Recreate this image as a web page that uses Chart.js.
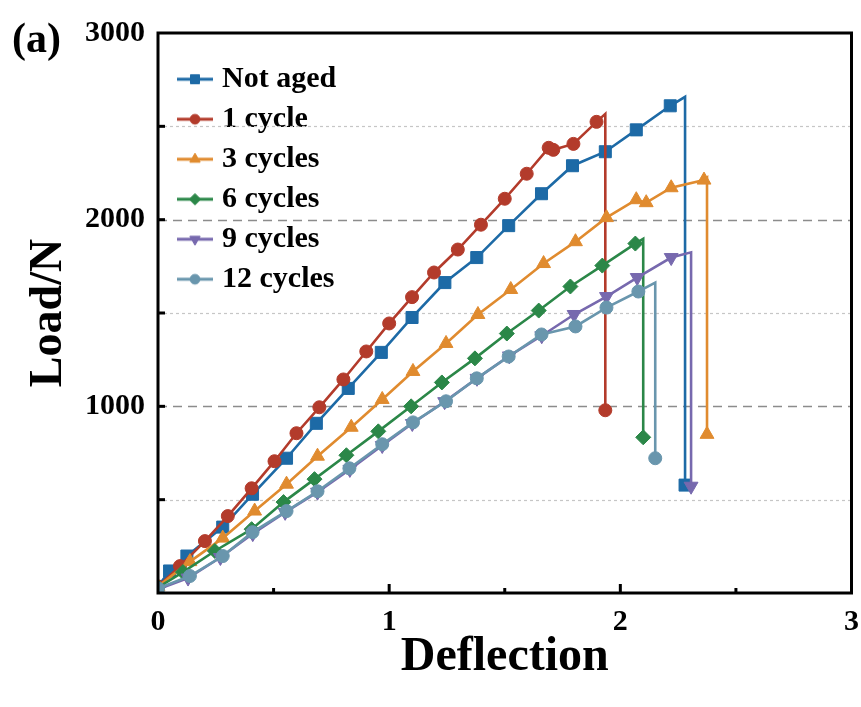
<!DOCTYPE html>
<html>
<head>
<meta charset="utf-8">
<script src="https://cdn.jsdelivr.net/npm/chart.js@4.4.0/dist/chart.umd.min.js"></script>
<style>
    html, body { margin: 0; padding: 0; background: #fff; }
    #wrap { position: relative; width: 861px; height: 707px; }
    #tag { position: absolute; left: 12px; top: 17px; font: bold 42px "Liberation Serif", serif; line-height: 1; color: #000; }
</style>
</head>
<body>
<div id="wrap">
    <canvas id="chart" width="861" height="707"></canvas>
    <div id="tag">(a)</div>
</div>
<script>
// series names as in the legend
const seriesNames = ['Not aged', '1 cycle', '3 cycles', '6 cycles', '9 cycles', '12 cycles'];

// deflection / load (last point = load after failure)
const notAgedX = [0, 0.05, 0.125, 0.28, 0.409, 0.556, 0.685, 0.823, 0.966, 1.099, 1.241, 1.379, 1.517, 1.659, 1.793, 1.935, 2.069, 2.216, 2.28, 2.28];
const notAgedY = [35, 118, 198, 353, 529, 722, 909, 1096, 1289, 1476, 1663, 1797, 1968, 2139, 2289, 2364, 2481, 2610, 2658, 578];

const cycle1X = [0, 0.095, 0.203, 0.302, 0.405, 0.504, 0.599, 0.698, 0.802, 0.901, 1.0, 1.099, 1.194, 1.297, 1.397, 1.5, 1.595, 1.69, 1.71, 1.797, 1.897, 1.935, 1.935];
const cycle1Y = [35, 144, 278, 412, 561, 706, 856, 995, 1144, 1294, 1444, 1585, 1717, 1840, 1973, 2112, 2246, 2385, 2374, 2406, 2524, 2567, 979];

const cycle3X = [0, 0.138, 0.28, 0.418, 0.556, 0.69, 0.836, 0.97, 1.103, 1.246, 1.384, 1.526, 1.668, 1.806, 1.94, 2.069, 2.112, 2.22, 2.362, 2.375, 2.375];
const cycle3Y = [35, 168, 294, 439, 583, 733, 888, 1037, 1187, 1337, 1492, 1626, 1765, 1882, 2011, 2107, 2091, 2171, 2212, 2225, 850];

const cycle6X = [0, 0.108, 0.246, 0.405, 0.543, 0.677, 0.815, 0.953, 1.095, 1.228, 1.371, 1.509, 1.647, 1.784, 1.922, 2.065, 2.099, 2.099];
const cycle6Y = [30, 112, 225, 342, 487, 610, 738, 866, 1000, 1128, 1257, 1390, 1513, 1642, 1754, 1872, 1898, 834];

const cycle9X = [0, 0.13, 0.27, 0.41, 0.55, 0.69, 0.83, 0.97, 1.10, 1.24, 1.38, 1.52, 1.66, 1.80, 1.94, 2.073, 2.22, 2.306, 2.306];
const cycle9Y = [20, 80, 190, 318, 432, 540, 662, 790, 908, 1025, 1150, 1270, 1378, 1492, 1588, 1690, 1797, 1825, 572];

const cycle12X = [0, 0.138, 0.28, 0.409, 0.556, 0.69, 0.828, 0.97, 1.103, 1.246, 1.379, 1.517, 1.659, 1.806, 1.94, 2.078, 2.151, 2.151];
const cycle12Y = [25, 91, 198, 326, 439, 545, 668, 797, 914, 1027, 1150, 1267, 1385, 1428, 1529, 1615, 1663, 722];

const seriesX = [notAgedX, cycle1X, cycle3X, cycle6X, cycle9X, cycle12X];
const seriesY = [notAgedY, cycle1Y, cycle3Y, cycle6Y, cycle9Y, cycle12Y];

const colors = ['#1d6aa6', '#b33b2b', '#e08b2f', '#2b8748', '#7769ae', '#6996ad'];
const markers = [
    { style: 'rect', rot: 0, r: 8.5 },
    { style: 'circle', rot: 0, r: 6.5 },
    { style: 'triangle', rot: 0, r: 8 },
    { style: 'rectRot', rot: 0, r: 7.5 },
    { style: 'triangle', rot: 180, r: 8 },
    { style: 'circle', rot: 0, r: 6.5 }
];

const serif = '"Liberation Serif", "Times New Roman", serif';

// small canvas: line sample with marker, used as legend symbol
function makeIcon(color, m) {
    const c = document.createElement('canvas');
    c.width = 51;
    c.height = 20;
    const g = c.getContext('2d');
    g.strokeStyle = color;
    g.fillStyle = color;
    g.lineWidth = 3;
    g.beginPath();
    g.moveTo(15, 10);
    g.lineTo(51, 10);
    g.stroke();
    g.lineWidth = 1;
    Chart.helpers.drawPoint(g, { pointStyle: m.style, rotation: m.rot, radius: m.r * 0.75, borderWidth: 1 }, 33, 10);
    return c;
}
const icons = colors.map((c, i) => makeIcon(c, markers[i]));

const datasets = seriesNames.map((name, i) => ({
    label: name,
    data: seriesX[i].map((x, j) => ({ x: x, y: seriesY[i][j] })),
    borderColor: colors[i],
    backgroundColor: colors[i],
    borderWidth: 2.6,
    tension: 0,
    pointStyle: markers[i].style,
    rotation: markers[i].rot,
    pointBorderWidth: 1,
    // no marker on the peak just before the drop
    pointRadius: function (ctx) {
        return ctx.dataIndex === ctx.dataset.data.length - 2 ? 0 : markers[i].r;
    },
    order: seriesNames.length - i
}));

const frameGrid = {
    id: 'frameGrid',
    beforeDatasetsDraw(chart) {
        const { ctx, chartArea: a } = chart;
        const y = chart.scales.y;
        ctx.save();
        y.ticks.forEach(t => {
            if (t.value <= 0 || t.value >= 3000) return;
            const py = Math.round(y.getPixelForValue(t.value)) + 0.5;
            const major = t.value % 1000 === 0;
            ctx.strokeStyle = major ? '#8c8c8c' : '#c6c6c6';
            ctx.lineWidth = major ? 1.3 : 1.2;
            ctx.setLineDash(major ? [9, 6] : [3, 3]);
            ctx.beginPath();
            ctx.moveTo(a.left, py);
            ctx.lineTo(a.right, py);
            ctx.stroke();
        });
        ctx.restore();
    },
    afterDatasetsDraw(chart) {
        const { ctx, chartArea: a } = chart;
        const x = chart.scales.x;
        const y = chart.scales.y;
        ctx.save();
        ctx.setLineDash([]);
        ctx.strokeStyle = '#000';
        ctx.lineWidth = 3;
        y.ticks.forEach(t => {
            if (t.value <= 0 || t.value >= 3000) return;
            const py = y.getPixelForValue(t.value);
            ctx.beginPath();
            ctx.moveTo(a.left, py);
            ctx.lineTo(a.left + 7, py);
            ctx.stroke();
        });
        x.ticks.forEach(t => {
            if (t.value <= 0 || t.value >= 3) return;
            const px = x.getPixelForValue(t.value);
            const len = Number.isInteger(t.value) ? 9 : 5;
            ctx.beginPath();
            ctx.moveTo(px, a.bottom);
            ctx.lineTo(px, a.bottom - len);
            ctx.stroke();
        });
        ctx.strokeRect(a.left, a.top, a.right - a.left, a.bottom - a.top);
        ctx.restore();
    }
};

const tickFont = { family: serif, size: 30, weight: 'bold' };

new Chart(document.getElementById('chart'), {
    type: 'line',
    data: { datasets: datasets },
    plugins: [frameGrid],
    options: {
        responsive: false,
        animation: false,
        events: [],
        layout: { padding: { top: 33, right: 6, bottom: 0, left: 0 } },
        plugins: {
            tooltip: { enabled: false },
            legend: {
                position: 'chartArea',
                align: 'start',
                title: { display: true, text: '', font: { size: 1 }, padding: { top: 0, bottom: 53 } },
                labels: {
                    font: { family: serif, size: 30, weight: 'bold' },
                    color: '#000',
                    padding: 10,
                    usePointStyle: true,
                    pointStyleWidth: 39,
                    generateLabels: function (chart) {
                        return chart.data.datasets.map((ds, i) => ({
                            text: ds.label,
                            pointStyle: icons[i],
                            datasetIndex: i,
                            hidden: false,
                            lineWidth: 0,
                            fillStyle: ds.borderColor,
                            strokeStyle: ds.borderColor,
                            fontColor: '#000'
                        }));
                    }
                }
            }
        },
        scales: {
            x: {
                type: 'linear',
                min: 0,
                max: 3,
                afterFit: function (s) {
                    s.height = 114;
                    s.paddingLeft = 0;
                    s.paddingRight = 0;
                },
                grid: { drawOnChartArea: false, drawTicks: false },
                border: { display: false },
                ticks: {
                    stepSize: 0.5,
                    padding: 11,
                    color: '#000',
                    font: tickFont,
                    maxRotation: 0,
                    autoSkip: false,
                    callback: v => Number.isInteger(v) ? v : ''
                },
                title: {
                    display: true,
                    text: 'Deflection',
                    color: '#000',
                    font: { family: serif, size: 48, weight: 'bold' },
                    padding: { top: 0, bottom: 21 }
                }
            },
            y: {
                min: 0,
                max: 3000,
                afterFit: function (s) {
                    s.width = 158;
                    s.paddingTop = 0;
                    s.paddingBottom = 0;
                },
                grid: { drawOnChartArea: false, drawTicks: false },
                border: { display: false },
                ticks: {
                    stepSize: 500,
                    padding: 13,
                    color: '#000',
                    font: tickFont,
                    autoSkip: false,
                    callback: v => (v > 0 && v % 1000 === 0) ? v : ''
                },
                title: {
                    display: true,
                    text: 'Load/N',
                    color: '#000',
                    font: { family: serif, size: 46, weight: 'bold' },
                    padding: { top: 22, bottom: 0 }
                }
            }
        }
    }
});
</script>
</body>
</html>
